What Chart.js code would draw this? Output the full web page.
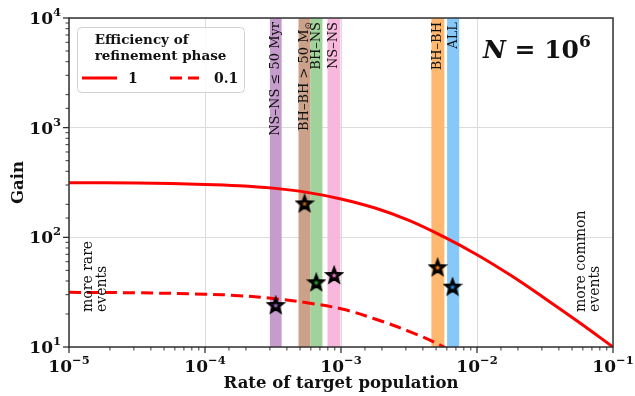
<!DOCTYPE html>
<html>
<head>
<meta charset="utf-8">
<script src="https://cdn.jsdelivr.net/npm/chart.js@4.4.1/dist/chart.umd.min.js"></script>
<style>
  html, body { margin: 0; padding: 0; background: #fff; }
</style>
</head>
<body>
<canvas id="gain" width="635" height="396"></canvas>
<script>
// gain curves for the two refinement efficiencies (quarter-decade steps)
const rate = [1e-5, 3.16e-5, 1e-4, 1.78e-4, 3.16e-4, 5.62e-4, 1e-3, 1.78e-3, 3.16e-3, 5.62e-3, 1e-2, 1.78e-2, 3.16e-2, 5.62e-2, 1e-1];
const gainFull = [314.6, 312.6, 304, 296, 281, 257, 224, 185, 143, 102, 69.4, 44.8, 27.7, 16.8, 10];
const gainTenth = [31.5, 31.2, 30.3, 29.4, 27.7, 25.3, 22.3, 18.0, 13.9, 10.1, 6.8, 4.3, 2.7, 1.6, 1.0];
const efficiencies = ['1', '0.1'];

// target populations: rate range and measured gain
const populations = ['NS–NS ≤ 50 Myr', 'BH–BH > 50 M', 'BH–NS', 'NS–NS', 'BH–BH', 'ALL'];
const bandLo = [3.0e-4, 4.87e-4, 5.97e-4, 7.96e-4, 4.62e-3, 6.03e-3];
const bandHi = [3.66e-4, 5.97e-4, 7.3e-4, 9.9e-4, 5.75e-3, 7.4e-3];
const starRate = [3.31e-4, 5.4e-4, 6.58e-4, 8.91e-4, 5.13e-3, 6.61e-3];
const starGain = [24.1, 204, 38.9, 45.3, 53.3, 35.5];

const xTickExp = [-5, -4, -3, -2, -1];
const yTickExp = [1, 2, 3, 4];

const bandColors = ['#c59ccc', '#cca189', '#a0d39b', '#f8b7dc', '#ffb86f', '#86c8f8'];
const starColors = ['#9467bd', '#b5651d', '#2ca02c', '#e377c2', '#ff7f0e', '#1f8fe8'];

const SERIF = '"DejaVu Serif", "Liberation Serif", serif';

function starImage(fill) {
  const c = document.createElement('canvas');
  c.width = 20; c.height = 20;
  const g = c.getContext('2d');
  g.beginPath();
  for (let i = 0; i < 10; i++) {
    const r = i % 2 === 0 ? 6.9 : 2.9;
    const a = -Math.PI / 2 + i * Math.PI / 5;
    const px = 10 + r * Math.cos(a), py = 10.6 + r * Math.sin(a);
    if (i === 0) g.moveTo(px, py); else g.lineTo(px, py);
  }
  g.closePath();
  g.fillStyle = fill;
  g.fill();
  g.lineWidth = 2.8;
  g.lineJoin = 'miter';
  g.strokeStyle = '#000';
  g.stroke();
  return c;
}
const stars = starColors.map(starImage);

// draw a list of [text, font, dy] runs starting at x
function runs(ctx, parts, x, y, align) {
  let w = 0;
  parts.forEach(p => { ctx.font = p[1]; w += ctx.measureText(p[0]).width; });
  let cx = align === 'right' ? x - w : align === 'center' ? x - w / 2 : x;
  ctx.textAlign = 'left';
  parts.forEach(p => {
    ctx.font = p[1];
    ctx.fillText(p[0], cx, y + (p[2] || 0));
    cx += ctx.measureText(p[0]).width;
  });
}

const isDecade = v => Math.abs(Math.log10(v) - Math.round(Math.log10(v))) < 1e-6;

const bandsPlugin = {
  id: 'bands',
  beforeDatasetsDraw(chart) {
    const { ctx, chartArea: a, scales: { x } } = chart;
    ctx.save();
    populations.forEach((name, i) => {
      const x0 = x.getPixelForValue(bandLo[i]);
      const x1 = x.getPixelForValue(bandHi[i]);
      ctx.fillStyle = bandColors[i];
      ctx.fillRect(x0, a.top, x1 - x0, a.bottom - a.top);
    });
    ctx.fillStyle = '#111';
    ctx.textBaseline = 'middle';
    populations.forEach((name, i) => {
      const xc = (x.getPixelForValue(bandLo[i]) + x.getPixelForValue(bandHi[i])) / 2;
      ctx.save();
      ctx.translate(xc, a.top + 4);
      ctx.rotate(-Math.PI / 2);
      const f = '13px ' + SERIF;
      const parts = [[name, f]];
      if (name.endsWith(' M')) parts.push(['⊙', '9px ' + SERIF, 4]);
      runs(ctx, parts, 0, 0, 'right');
      ctx.restore();
    });
    ctx.restore();
  },
  afterDraw(chart) {
    const { ctx, chartArea: a, scales: { x, y } } = chart;
    ctx.save();
    // frame
    ctx.strokeStyle = '#333';
    ctx.lineWidth = 1.5;
    ctx.strokeRect(a.left, a.top, a.right - a.left, a.bottom - a.top);

    // tick marks
    ctx.strokeStyle = '#222';
    x.ticks.forEach(t => {
      const px = x.getPixelForValue(t.value);
      const major = isDecade(t.value);
      ctx.lineWidth = major ? 1.2 : 0.9;
      ctx.beginPath();
      ctx.moveTo(px, a.bottom);
      ctx.lineTo(px, a.bottom + (major ? 6 : 3.5));
      ctx.stroke();
    });
    y.ticks.forEach(t => {
      const py = y.getPixelForValue(t.value);
      const major = isDecade(t.value);
      ctx.lineWidth = major ? 1.2 : 0.9;
      ctx.beginPath();
      ctx.moveTo(a.left, py);
      ctx.lineTo(a.left - (major ? 6 : 3.5), py);
      ctx.stroke();
    });

    // tick labels
    ctx.fillStyle = '#111';
    ctx.textBaseline = 'alphabetic';
    const big = 'bold 17px ' + SERIF, sup = 'bold 11.5px ' + SERIF;
    xTickExp.forEach(e => {
      runs(ctx, [['10', big], ['−' + Math.abs(e), sup, -8]], x.getPixelForValue(Math.pow(10, e)), a.bottom + 25, 'center');
    });
    yTickExp.forEach(e => {
      runs(ctx, [['10', big], [String(e), sup, -8]], a.left - 8, y.getPixelForValue(Math.pow(10, e)) + 6, 'right');
    });

    // axis titles
    ctx.font = 'bold 16.5px ' + SERIF;
    ctx.textAlign = 'center';
    ctx.fillText('Rate of target population', (a.left + a.right) / 2, 388);
    ctx.save();
    ctx.translate(23, (a.top + a.bottom) / 2);
    ctx.rotate(-Math.PI / 2);
    ctx.fillText('Gain', 0, 0);
    ctx.restore();

    // side notes
    ctx.font = '14px ' + SERIF;
    ctx.textAlign = 'left';
    [[92, ['more rare', 'events']], [585, ['more common', 'events']]].forEach(([px, lines]) => {
      ctx.save();
      ctx.translate(px, 312);
      ctx.rotate(-Math.PI / 2);
      lines.forEach((s, k) => ctx.fillText(s, 0, k * 14));
      ctx.restore();
    });

    // N = 10^6
    runs(ctx, [['N', 'italic bold 25px ' + SERIF], [' = 10', 'bold 25px ' + SERIF], ['6', 'bold 17px ' + SERIF, -11]], 483, 58, 'left');

    // legend
    const lx = 77, ly = 27, lw = 167, lh = 65;
    ctx.fillStyle = 'rgba(255,255,255,0.85)';
    ctx.strokeStyle = '#d0d0d0';
    ctx.lineWidth = 1;
    ctx.beginPath();
    ctx.roundRect(lx + 0.5, ly + 0.5, lw, lh, 4);
    ctx.fill();
    ctx.stroke();
    ctx.fillStyle = '#111';
    ctx.font = 'bold 13.5px ' + SERIF;
    ctx.textAlign = 'left';
    const t1 = 'Efficiency of', t2 = 'refinement phase';
    const tw = Math.max(ctx.measureText(t1).width, ctx.measureText(t2).width);
    const tx = lx + lw / 2 - tw / 2;
    ctx.fillText(t1, tx, 44);
    ctx.fillText(t2, tx, 60);
    const lines = chart.data.datasets.filter(d => d.type === 'line');
    [[82, 117, 128], [170, 199, 214]].forEach(([s0, s1, tx2], k) => {
      const ds = lines[k];
      ctx.strokeStyle = ds.borderColor;
      ctx.lineWidth = ds.borderWidth;
      ctx.setLineDash(ds.borderDash || []);
      ctx.beginPath();
      ctx.moveTo(s0, 78);
      ctx.lineTo(s1, 78);
      ctx.stroke();
      ctx.setLineDash([]);
      ctx.fillStyle = '#111';
      ctx.font = 'bold 14px ' + SERIF;
      ctx.fillText(ds.label, tx2, 83);
    });
    ctx.restore();
  }
};

new Chart(document.getElementById('gain'), {
  data: {
    datasets: [
      {
        type: 'scatter',
        label: 'populations',
        data: starRate.map((r, i) => ({ x: r, y: starGain[i] })),
        pointStyle: ctx => stars[ctx.dataIndex],
        order: 0
      },
      {
        type: 'line',
        label: efficiencies[0],
        data: rate.map((r, i) => ({ x: r, y: gainFull[i] })),
        borderColor: '#ff0000',
        borderWidth: 3,
        pointRadius: 0,
        tension: 0.4,
        clip: 0,
        order: 1
      },
      {
        type: 'line',
        label: efficiencies[1],
        data: rate.map((r, i) => ({ x: r, y: gainTenth[i] })),
        borderColor: '#ff0000',
        borderWidth: 3,
        borderDash: [12, 6],
        pointRadius: 0,
        tension: 0.4,
        clip: 0,
        order: 2
      }
    ]
  },
  options: {
    responsive: false,
    animation: false,
    events: [],
    layout: { padding: { left: 69, right: 22, top: 18, bottom: 49 } },
    plugins: { legend: { display: false }, tooltip: { enabled: false } },
    scales: {
      x: {
        type: 'logarithmic',
        min: 1e-5,
        max: 1e-1,
        ticks: { display: false, autoSkip: false },
        border: { display: false },
        grid: {
          drawTicks: false,
          color: c => (c.tick && isDecade(c.tick.value) ? '#dcdcdc' : 'rgba(0,0,0,0)'),
          lineWidth: 1
        }
      },
      y: {
        type: 'logarithmic',
        min: 10,
        max: 1e4,
        ticks: { display: false, autoSkip: false },
        border: { display: false },
        grid: {
          drawTicks: false,
          color: c => (c.tick && isDecade(c.tick.value) ? '#dcdcdc' : 'rgba(0,0,0,0)'),
          lineWidth: 1
        }
      }
    }
  },
  plugins: [bandsPlugin]
});
</script>
</body>
</html>
